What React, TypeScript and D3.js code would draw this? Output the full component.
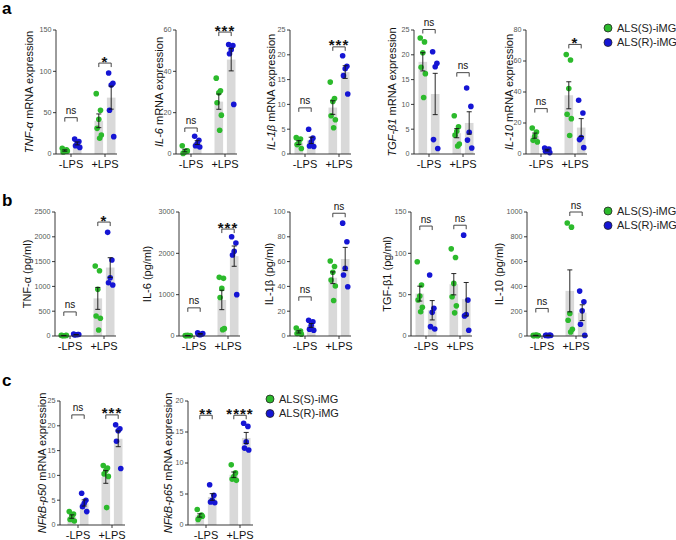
import React from "react";
import * as d3 from "d3";

const groups = ["-LPS", "+LPS"];
const seriesNames = ["ALS(S)-iMG", "ALS(R)-iMG"];
const seriesColors = ["#2cba2c", "#1515d4"];

// order in every list: S -LPS, R -LPS, S +LPS, R +LPS
const tnfMrna = [[7, 5, 3, 2.5, 3.5], [18, 15, 13, 10, 8], [73, 53, 42, 31, 23, 19], [98, 85.5, 83.4, 53, 21]];
const il6Mrna = [[4, 1.6, 1, 0.3, 1.5], [8.6, 6.6, 5, 4, 3.4], [36.7, 30.6, 29.6, 24.8, 18.8, 11.5], [53, 52.5, 50.5, 48.5, 24]];
const il1bMrna = [[3.3, 3.0, 2.2, 1.9, 1.1], [5, 3.2, 2.4, 1.6, 1.5], [14.5, 11.2, 10.6, 7.7, 6.9, 5.3], [19.8, 17.7, 17.2, 15.8, 12.1]];
const tgfMrna = [[23.4, 22.6, 20.4, 17.5, 16.2, 11.4], [20.6, 18.3, 17.6, 2.9, 1.1], [7.7, 5.5, 4.6, 3.8, 2.0, 1.6], [13.3, 9.6, 4.4, 2.8, 1.2]];
const il10Mrna = [[16.8, 14.2, 11.6, 8.8, 7.8], [3.9, 3.2, 2.8, 1.7, 0.9], [64.2, 60.6, 42.2, 25.6, 22.8, 11.9], [34.7, 26.5, 10.6, 9.3, 4.1]];

const tnfProt = [[15, 10, 5, 8, 12], [40, 30, 25, 20, 30], [1411, 1317, 941, 403, 357, 121], [2090, 1532, 1175, 1075, 1028]];
const il6Prot = [[10, 5, 15, 8, 12], [80, 50, 30, 40, 60], [1419, 1395, 1152, 933, 178, 154], [2400, 2250, 2050, 1960, 1000]];
const il1bProt = [[6.5, 4, 2.5, 2, 1.5], [12.7, 11.4, 8.6, 5.4, 4.6], [60.5, 56, 51.4, 45.1, 40.3, 28.6], [91, 76, 54.6, 49.2, 39.7]];
const tgfProt = [[89.9, 61.7, 48.4, 43.5, 34.7, 29.4], [73.8, 33.5, 28.6, 11.3, 8.5], [105.4, 94.9, 63.6, 47.4, 36.5, 28], [122, 43.4, 26, 24.3, 6.9]];
const il10Prot = [[5, 3, 8, 2, 4, 6], [5, 8, 3, 6, 4], [911, 878, 181, 127, 54, 32], [362, 276, 203, 95, 5]];

const p50Mrna = [[2.7, 2.2, 1.7, 1.1, 0.8], [6.4, 5.0, 4.4, 3.7, 2.7], [12, 11.5, 11, 10.3, 9.8, 3.5], [20.2, 19.4, 19.0, 16.9, 11.4]];
const p65Mrna = [[2.5, 1.6, 1.3, 0.9, 1.4], [6.5, 4.8, 4.0, 3.7, 3.6], [9.7, 8.4, 7.8, 7.4, 7.2], [16.4, 15.9, 13.4, 12.4, 12.1]];

// significance label and bracket height per group (-LPS, +LPS)
const tnfMrnaSig = [["ns", 44], ["*", 110]];
const il6MrnaSig = [["ns", 12.6], ["***", 59]];
const il1bMrnaSig = [["ns", 9.3], ["***", 21.6]];
const tgfMrnaSig = [["ns", 25.1], ["ns", 16.4]];
const il10MrnaSig = [["ns", 29.3], ["*", 70.7]];
const tnfProtSig = [["ns", 486], ["*", 2297]];
const il6ProtSig = [["ns", 681], ["***", 2587]];
const il1bProtSig = [["ns", 31.6], ["ns", 99]];
const tgfProtSig = [["ns", 133], ["ns", 134]];
const il10ProtSig = [["ns", 222], ["ns", 1000]];
const p50Sig = [["ns", 22.2], ["***", 22.2]];
const p65Sig = [["**", 17.7], ["****", 17.7]];

const FONT = "'Liberation Sans', Arial, sans-serif";

type Spec = {
  label: [string, boolean][];
  values: number[][];
  ticks: number[];
  sig: (string | number)[][];
};

const rowA: Spec[] = [
  { label: [["TNF-α", true], [" mRNA expression", false]], values: tnfMrna, ticks: d3.range(0, 151, 50), sig: tnfMrnaSig },
  { label: [["IL-6", true], [" mRNA expression", false]], values: il6Mrna, ticks: d3.range(0, 61, 20), sig: il6MrnaSig },
  { label: [["IL-1β", true], [" mRNA expression", false]], values: il1bMrna, ticks: d3.range(0, 26, 5), sig: il1bMrnaSig },
  { label: [["TGF-β1", true], [" mRNA expression", false]], values: tgfMrna, ticks: d3.range(0, 26, 5), sig: tgfMrnaSig },
  { label: [["IL-10", true], [" mRNA expression", false]], values: il10Mrna, ticks: d3.range(0, 81, 20), sig: il10MrnaSig },
];
const rowB: Spec[] = [
  { label: [["TNF-α (pg/ml)", false]], values: tnfProt, ticks: d3.range(0, 2501, 500), sig: tnfProtSig },
  { label: [["IL-6 (pg/ml)", false]], values: il6Prot, ticks: d3.range(0, 3001, 1000), sig: il6ProtSig },
  { label: [["IL-1β (pg/ml)", false]], values: il1bProt, ticks: d3.range(0, 101, 20), sig: il1bProtSig },
  { label: [["TGF-β1 (pg/ml)", false]], values: tgfProt, ticks: d3.range(0, 151, 50), sig: tgfProtSig },
  { label: [["IL-10 (pg/ml)", false]], values: il10Prot, ticks: d3.range(0, 1001, 200), sig: il10ProtSig },
];
const rowC: Spec[] = [
  { label: [["NFkB-p50", true], [" mRNA expression", false]], values: p50Mrna, ticks: d3.range(0, 26, 5), sig: p50Sig },
  { label: [["NFkB-p65", true], [" mRNA expression", false]], values: p65Mrna, ticks: d3.range(0, 21, 5), sig: p65Sig },
];

const jitter = (i: number) => (((i * 5) % 7) - 3) * 0.85;

function Subplot({ spec, x0, top, bottom, gOff, width, labelOff }: any) {
  const y = d3.scaleLinear().domain([0, d3.max(spec.ticks) as number]).range([bottom, top]);
  const x = d3.scalePoint().domain(groups).range([x0 + gOff[0], x0 + gOff[1]]);
  const bx = (gi: number, si: number) => (x(groups[gi]) as number) + (si === 0 ? -6.2 : 6.2);
  const bw = 8.6;
  const cells: any[] = [];
  groups.forEach((g, gi) => {
    [0, 1].forEach((si) => {
      const vals = spec.values[gi * 2 + si];
      const m = d3.mean(vals) as number;
      const sem = (d3.deviation(vals) as number) / Math.sqrt(vals.length);
      cells.push({ gi, si, vals, m, sem, cx: bx(gi, si) });
    });
  });
  const mid = (top + bottom) / 2;
  return (
    <g>
      {cells.map((c, k) => (
        <rect key={"b" + k} x={c.cx - bw / 2} y={y(c.m)} width={bw} height={bottom - y(c.m)} fill="#d9d9d9" />
      ))}
      {cells.map((c, k) =>
        c.vals.map((v: number, i: number) => (
          <circle key={"d" + k + "-" + i} cx={c.cx + jitter(i)} cy={y(v)} r={2.8} fill={seriesColors[c.si]} />
        ))
      )}
      {cells.map((c, k) => {
        const y1 = y(c.m + c.sem);
        const y2 = y(Math.max(0, c.m - c.sem));
        return (
          <g key={"e" + k} stroke="#111" strokeWidth={0.9}>
            <line x1={c.cx} x2={c.cx} y1={y1} y2={y2} />
            <line x1={c.cx - 2.5} x2={c.cx + 2.5} y1={y1} y2={y1} />
            <line x1={c.cx - 2.5} x2={c.cx + 2.5} y1={y2} y2={y2} />
          </g>
        );
      })}
      {/* y axis */}
      <line x1={x0} x2={x0} y1={bottom} y2={top} stroke="#222" strokeWidth={0.9} />
      {spec.ticks.map((t: number) => (
        <g key={"t" + t}>
          <line x1={x0 - 3} x2={x0} y1={y(t)} y2={y(t)} stroke="#222" strokeWidth={0.9} />
          <text x={x0 - 4.5} y={y(t)} dy="0.33em" textAnchor="end" fontSize={7.2} fill="#555">{t}</text>
        </g>
      ))}
      {/* x axis */}
      <line x1={x0} x2={x0 + width} y1={bottom} y2={bottom} stroke="#222" strokeWidth={0.9} />
      {groups.map((g) => (
        <g key={g}>
          <line x1={x(g)} x2={x(g)} y1={bottom} y2={bottom + 3} stroke="#222" strokeWidth={0.9} />
          <text x={x(g)} y={bottom + 13.5} textAnchor="middle" fontSize={11} fill="#111">{g}</text>
        </g>
      ))}
      {/* y label */}
      <text transform={`translate(${x0 - labelOff},${mid}) rotate(-90)`} dy="0.35em" textAnchor="middle" fontSize={11} fill="#111">
        {spec.label.map(([s, it]: [string, boolean], i: number) => (
          <tspan key={i} fontStyle={it ? "italic" : "normal"}>{s}</tspan>
        ))}
      </text>
      {/* significance brackets */}
      {spec.sig.map(([lab, h]: [string, number], gi: number) => {
        const yb = y(h);
        const xa = bx(gi, 0);
        const xb = bx(gi, 1);
        const star = lab !== "ns";
        return (
          <g key={"s" + gi}>
            <path d={`M${xa},${yb + 4}V${yb}H${xb}V${yb + 4}`} fill="none" stroke="#333" strokeWidth={0.9} />
            <text x={(xa + xb) / 2} y={star ? yb + 3.5 : yb - 3.5} textAnchor="middle"
              fontSize={star ? 15 : 10} fontWeight={star ? "bold" : "normal"} letterSpacing={star ? 1 : 0} fill="#111">
              {lab}
            </text>
          </g>
        );
      })}
    </g>
  );
}

function Legend({ x, y }: { x: number; y: number }) {
  return (
    <g>
      {seriesNames.map((s, i) => (
        <g key={s} transform={`translate(${x},${y + i * 14.5})`}>
          <circle r={4} fill={seriesColors[i]} stroke="#222" strokeWidth={0.8} />
          <text x={9} dy="0.35em" fontSize={11} fill="#222">{s}</text>
        </g>
      ))}
    </g>
  );
}

export default function App() {
  const axA = [56, 176, 290, 414, 526];
  const offA = [27, 17, 19, 22, 17];
  const axB = [55, 179, 290, 411, 527];
  const offB = [28, 32, 21, 24, 28];
  const axC = [60, 188];
  const offC = [18, 20];
  return (
    <svg width={676} height={540} style={{ position: "absolute", left: 0, top: 0, background: "#fff" }} fontFamily={FONT}>
      <text x={2} y={14} fontSize={17} fontWeight="bold">a</text>
      <text x={2} y={206} fontSize={17} fontWeight="bold">b</text>
      <text x={2} y={386} fontSize={17} fontWeight="bold">c</text>
      {rowA.map((s, i) => (
        <Subplot key={"a" + i} spec={s} x0={axA[i]} top={30} bottom={154} gOff={[15, 49]} width={61} labelOff={offA[i]} />
      ))}
      {rowB.map((s, i) => (
        <Subplot key={"b" + i} spec={s} x0={axB[i]} top={212} bottom={336} gOff={[15, 49]} width={61} labelOff={offB[i]} />
      ))}
      {rowC.map((s, i) => (
        <Subplot key={"c" + i} spec={s} x0={axC[i]} top={401} bottom={525} gOff={[18, 52]} width={65} labelOff={offC[i]} />
      ))}
      <Legend x={608} y={28} />
      <Legend x={608} y={211} />
      <Legend x={270} y={399} />
    </svg>
  );
}
